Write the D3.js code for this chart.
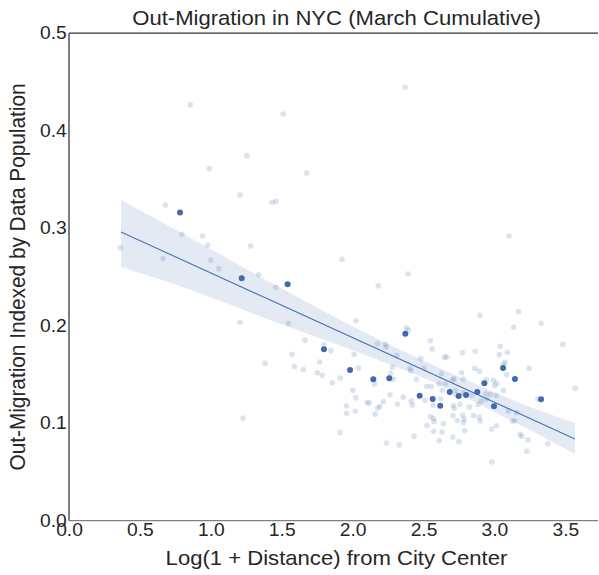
<!DOCTYPE html>
<html><head><meta charset="utf-8">
<script src="https://cdn.jsdelivr.net/npm/d3@7"></script>
<style>
body{margin:0;background:#fff}
svg text{font-family:"Liberation Sans",Arial,Helvetica,sans-serif;fill:#262626}
</style>
</head><body><svg id="c" width="599" height="575"></svg>
<script>
const title = "Out-Migration in NYC (March Cumulative)";
const xLabel = "Log(1 + Distance) from City Center";
const yLabel = "Out-Migration Indexed by Data Population";
const xTicks = [0.0,0.5,1.0,1.5,2.0,2.5,3.0,3.5];
const yTicks = [0.0,0.1,0.2,0.3,0.4,0.5];

const lightX = [0.855,1.511,2.370,1.255,0.989,1.675,1.206,0.679,1.432,1.460,0.797,0.943,0.978,1.281,0.362,0.663,0.999,1.056,1.338,1.458,1.206,1.549,1.664,1.573,1.382,1.590,1.652,1.925,2.181,2.024,1.798,1.846,2.011,2.176,2.232,2.236,2.311,2.281,1.768,1.751,1.786,2.042,1.913,1.858,2.269,2.287,2.154,2.001,2.264,2.022,2.102,2.118,2.217,2.193,2.176,2.315,1.957,2.020,1.958,2.159,
2.898,3.171,3.329,3.136,3.482,2.379,2.394,2.548,2.561,2.775,2.865,3.042,3.091,3.035,2.405,2.410,2.480,2.505,2.648,2.664,2.626,2.769,2.862,2.895,3.076,3.064,3.244,3.087,2.451,2.609,2.654,2.714,2.707,2.781,2.944,2.992,3.016,3.001,3.064,2.523,2.555,2.633,2.724,2.727,2.781,2.840,2.939,2.971,3.013,2.908,2.886,2.357,2.413,2.421,2.511,2.569,2.621,2.710,2.717,2.757,2.824,2.946,3.157,3.098,1.911,2.238,2.329,2.433,2.525,2.549,2.571,2.574,2.640,2.572,2.630,2.611,2.708,2.776,2.786,2.738,2.781,2.853,2.893,2.900,2.790,2.707,2.750,2.981,3.015,3.126,3.145,3.181,3.193,3.237,3.228,3.377,2.981,3.570,3.307,1.227,3.103,2.391];
const lightY = [0.4267,0.4171,0.4445,0.3744,0.3610,0.3566,0.3341,0.3235,0.3266,0.3276,0.2937,0.2920,0.2828,0.2817,0.2800,0.2687,0.2671,0.2585,0.2523,0.2394,0.2035,0.2023,0.1850,0.1707,0.1614,0.1582,0.1551,0.2681,0.2410,0.2051,0.1807,0.1744,0.1707,0.1814,0.1809,0.1782,0.1694,0.1574,0.1628,0.1518,0.1491,0.1566,0.1464,0.1415,0.1512,0.1450,0.1404,0.1338,0.1291,0.1262,0.1210,0.1210,0.1221,0.1171,0.1156,0.1194,0.1179,0.1122,0.1102,0.1093,
0.2107,0.2144,0.2025,0.1984,0.1809,0.1979,0.1956,0.1846,0.1761,0.1723,0.1737,0.1789,0.1727,0.1703,0.1563,0.1538,0.1662,0.1566,0.1676,0.1679,0.1510,0.1517,0.1561,0.1533,0.1625,0.1605,0.1563,0.1497,0.1450,0.1402,0.1402,0.1456,0.1443,0.1453,0.1448,0.1440,0.1409,0.1387,0.1335,0.1378,0.1378,0.1338,0.1333,0.1292,0.1313,0.1289,0.1305,0.1294,0.1284,0.1231,0.1192,0.1267,0.1228,0.1187,0.1235,0.1187,0.1248,0.1182,0.1154,0.1194,0.1166,0.1245,0.1110,0.1125,0.0903,0.0797,0.0778,0.0867,0.0976,0.1067,0.1048,0.1017,0.0995,0.0917,0.0910,0.0821,0.1077,0.1082,0.1043,0.1028,0.1007,0.1079,0.1062,0.1023,0.0925,0.0858,0.0810,0.0941,0.0973,0.1023,0.1023,0.0886,0.0866,0.0830,0.0712,0.0790,0.0604,0.1358,0.1245,0.1053,0.2920,0.2530];

const darkX = [0.783,1.218,1.542,1.798,1.982,2.146,2.259,2.372,2.473,2.565,2.618,2.685,2.748,2.800,2.879,2.929,2.997,3.061,3.145,3.329];
const darkY = [0.316,0.2486,0.2425,0.1758,0.1546,0.1450,0.1461,0.1918,0.1282,0.1248,0.1179,0.1320,0.1279,0.1289,0.1320,0.1409,0.1173,0.1566,0.1453,0.1245];

const fitX = [0.367, 3.568];
const fitY = [0.2961, 0.0838];
const bandX    = [0.367, 0.853, 1.417, 2.052, 2.616, 3.061, 3.300, 3.568];
const bandHigh = [0.3289, 0.2905, 0.2448, 0.1956, 0.1564, 0.1280, 0.1140, 0.1002];
const bandLow  = [0.2602, 0.2371, 0.2059, 0.1720, 0.1392, 0.1070, 0.0893, 0.0685];

const svg = d3.select('#c');
const L = 69, T = 33.2, R = 598, B = 520.7;
const x = d3.scaleLinear().domain([0, 3.7306]).range([L, R]);
const y = d3.scaleLinear().domain([0, 0.5]).range([B, T]);
const blue = '#4c72b0';
const SX = 1.1;

// band
const bandData = bandX.map((v,i)=>({x:v, lo:bandLow[i], hi:bandHigh[i]}));
svg.append('path').datum(bandData)
  .attr('d', d3.area().x(d=>x(d.x)).y0(d=>y(d.lo)).y1(d=>y(d.hi)).curve(d3.curveCatmullRom))
  .attr('fill', blue).attr('fill-opacity', 0.15);

// light points
const n = Math.min(lightX.length, lightY.length);
const light = d3.range(n).map(i=>({x:lightX[i], y:lightY[i]}));
svg.append('g').selectAll('circle').data(light).join('circle')
  .attr('cx', d=>x(d.x)).attr('cy', d=>y(d.y)).attr('r', 2.8)
  .attr('fill', blue).attr('fill-opacity', 0.2);

// fit line
svg.append('path').datum(fitX.map((v,i)=>({x:v,y:fitY[i]})))
  .attr('d', d3.line().x(d=>x(d.x)).y(d=>y(d.y)))
  .attr('fill','none').attr('stroke', blue).attr('stroke-width', 1.1);

// dark points
const dark = darkX.map((v,i)=>({x:v, y:darkY[i]}));
svg.append('g').selectAll('circle').data(dark).join('circle')
  .attr('cx', d=>x(d.x)).attr('cy', d=>y(d.y)).attr('r', 3)
  .attr('fill', '#4169ad');

// spines
svg.append('line').attr('x1',L).attr('x2',R).attr('y1',T).attr('y2',T).attr('stroke','#333').attr('stroke-width',1.25);
svg.append('line').attr('x1',L).attr('x2',L).attr('y1',T).attr('y2',B).attr('stroke','#333').attr('stroke-width',1.25);
svg.append('line').attr('x1',L).attr('x2',R).attr('y1',B).attr('y2',B).attr('stroke','#808080').attr('stroke-width',1.2);

// axes
const fmt = d3.format('.1f');
const xa = svg.append('g').attr('transform',`translate(0,${B})`)
  .call(d3.axisBottom(x).tickValues(xTicks).tickFormat(fmt).tickSize(0).tickPadding(3));
xa.attr('font-size',null).attr('font-family',null);
xa.select('.domain').remove();
xa.selectAll('text').style('font-size','17.5px').attr('transform',`scale(${SX},1)`);

const ya = svg.append('g').attr('transform',`translate(${L},0)`)
  .call(d3.axisLeft(y).tickValues(yTicks).tickFormat(fmt).tickSize(0).tickPadding(2));
ya.attr('font-size',null).attr('font-family',null);
ya.select('.domain').remove();
ya.selectAll('text').style('font-size','17.5px').attr('transform',`scale(${SX},1)`);

// titles
svg.append('text').attr('transform',`translate(336.5,25) scale(${SX*0.98},1)`)
  .attr('text-anchor','middle').style('font-size','20.5px').text(title);
svg.append('text').attr('transform',`translate(336.5,565) scale(${SX*0.98},1)`)
  .attr('text-anchor','middle').style('font-size','20.5px').text(xLabel);
svg.append('text').attr('transform',`translate(25,277) rotate(-90) scale(1,${SX*0.98})`)
  .attr('text-anchor','middle').style('font-size','20.8px').text(yLabel);
</script>
</body></html>
